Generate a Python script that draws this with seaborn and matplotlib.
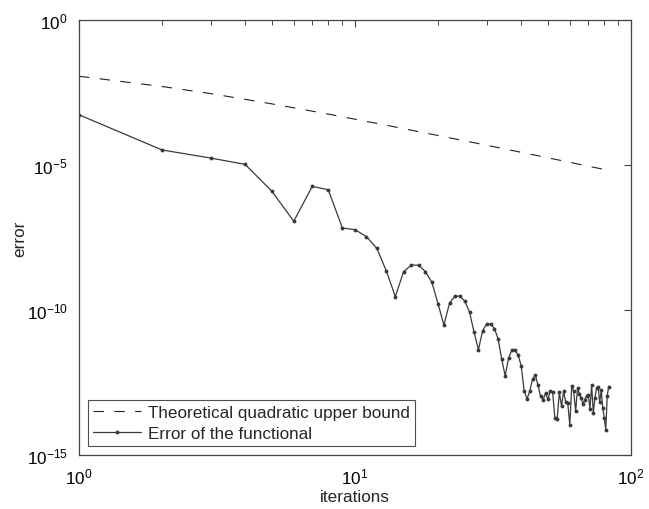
import numpy as np
import pandas as pd
import seaborn as sns
import matplotlib
matplotlib.use("Agg")
import matplotlib.pyplot as plt
from matplotlib.ticker import LogLocator, NullLocator, LogFormatterMathtext

# readings from the picture
iterations = list(range(1, 84))
error_functional = [
    5.4e-4, 3.3e-5, 1.74e-5, 1.05e-5, 1.24e-6, 1.15e-7, 1.83e-6, 1.4e-6, 6.7e-8, 5.9e-8,
    3.4e-8, 1.34e-8, 2.16e-9, 2.9e-10, 2.1e-9, 3.55e-9, 3.5e-9, 2.1e-9, 8.9e-10, 1.6e-10,
    3.0e-11, 1.74e-10, 3.0e-10, 3.0e-10, 2.0e-10, 8.5e-11, 1.7e-11, 4.3e-12, 1.94e-11, 3.3e-11,
    3.3e-11, 2.3e-11, 1.0e-11, 2.0e-12, 5.4e-13, 2.2e-12, 4.1e-12, 4.1e-12, 2.8e-12, 1.2e-12,
    1.65e-13, 8.5e-14, 1.65e-13, 4.2e-13, 5.7e-13, 2.6e-13, 1.05e-13, 7.9e-14, 1.35e-13, 8.5e-14,
    1.6e-13, 1.45e-13, 1.85e-14, 1.7e-14, 1.45e-13, 4.8e-14, 1.58e-13, 6.6e-14, 6.0e-14, 1.1e-14,
    2.45e-13, 1.58e-13, 3.2e-14, 2.0e-13, 1.26e-13, 9.0e-14, 5.6e-14, 8.1e-14, 1.1e-13, 1.2e-13,
    3.9e-14, 2.6e-13, 2.75e-14, 9.3e-14, 2.0e-13, 2.3e-13, 6.6e-14, 1.74e-13, 4.1e-14, 1.9e-14,
    7.4e-15, 1.1e-13, 2.3e-13,
]
bound_iterations = [1, 2, 3, 4, 5, 6, 8, 10, 13, 16, 20, 25, 30, 40, 50, 60, 70, 79]
bound_values = [1.15e-2, 5.1e-3, 2.9e-3, 1.84e-3, 1.28e-3, 9.4e-4, 5.7e-4, 3.8e-4, 2.35e-4,
                1.59e-4, 1.04e-4, 6.8e-5, 4.8e-5, 2.74e-5, 1.77e-5, 1.24e-5, 9.1e-6, 7.2e-6]

sns.set_style("white")
plt.rcParams['font.family'] = ['Liberation Sans', 'DejaVu Sans']
plt.rcParams['mathtext.fontset'] = 'custom'
plt.rcParams['mathtext.rm'] = 'Liberation Sans'
plt.rcParams['mathtext.it'] = 'Liberation Sans:italic'
plt.rcParams['lines.scale_dashes'] = False

fig = plt.figure(figsize=(6.49, 5.10), dpi=100)
ax = fig.add_axes([0.1217, 0.1059, 0.8506, 0.8529])

df_bound = pd.DataFrame({"k": bound_iterations, "err": bound_values})
df_err = pd.DataFrame({"k": iterations, "err": error_functional})

sns.lineplot(data=df_bound, x="k", y="err", ax=ax, color="#222222", linewidth=0.8,
             label="Theoretical quadratic upper bound")
ax.lines[-1].set_dashes((7.5, 7.5))
sns.lineplot(data=df_err, x="k", y="err", ax=ax, color="#3a3a3a", linewidth=0.9,
             marker="o", markersize=2.8, markeredgewidth=0, label="Error of the functional")

ax.set_xscale("log")
ax.set_yscale("log")
ax.set_xlim(1, 100)
ax.set_ylim(1e-15, 1)

ax.xaxis.set_major_locator(LogLocator(base=10, numticks=5))
ax.xaxis.set_minor_locator(LogLocator(base=10, subs=np.arange(2, 10), numticks=20))
ax.yaxis.set_major_locator(plt.FixedLocator([1e-15, 1e-10, 1e-5, 1]))
ax.yaxis.set_minor_locator(NullLocator())
ax.yaxis.set_major_formatter(LogFormatterMathtext())

for s in ax.spines.values():
    s.set_color("#444444")
    s.set_linewidth(0.9)
ax.tick_params(which="both", direction="in", top=True, right=True, colors="#444444",
               labelcolor="black", labelsize=12.3)
ax.tick_params(which="major", length=5, width=0.8, pad=8)
ax.tick_params(which="minor", length=3.5, width=0.7)

ax.set_xlabel("iterations", fontsize=12.3, labelpad=2)
ax.set_ylabel("error", fontsize=12.3, labelpad=-0.5)

leg = ax.legend(loc="lower left", fontsize=12.3, frameon=True, fancybox=False,
                handlelength=2.85, borderaxespad=0.5, borderpad=0.3, labelspacing=0.35,
                handletextpad=0.4)
leg.get_frame().set_edgecolor("#222222")
leg.get_frame().set_linewidth(0.8)

fig.savefig("out.png", dpi=100)
